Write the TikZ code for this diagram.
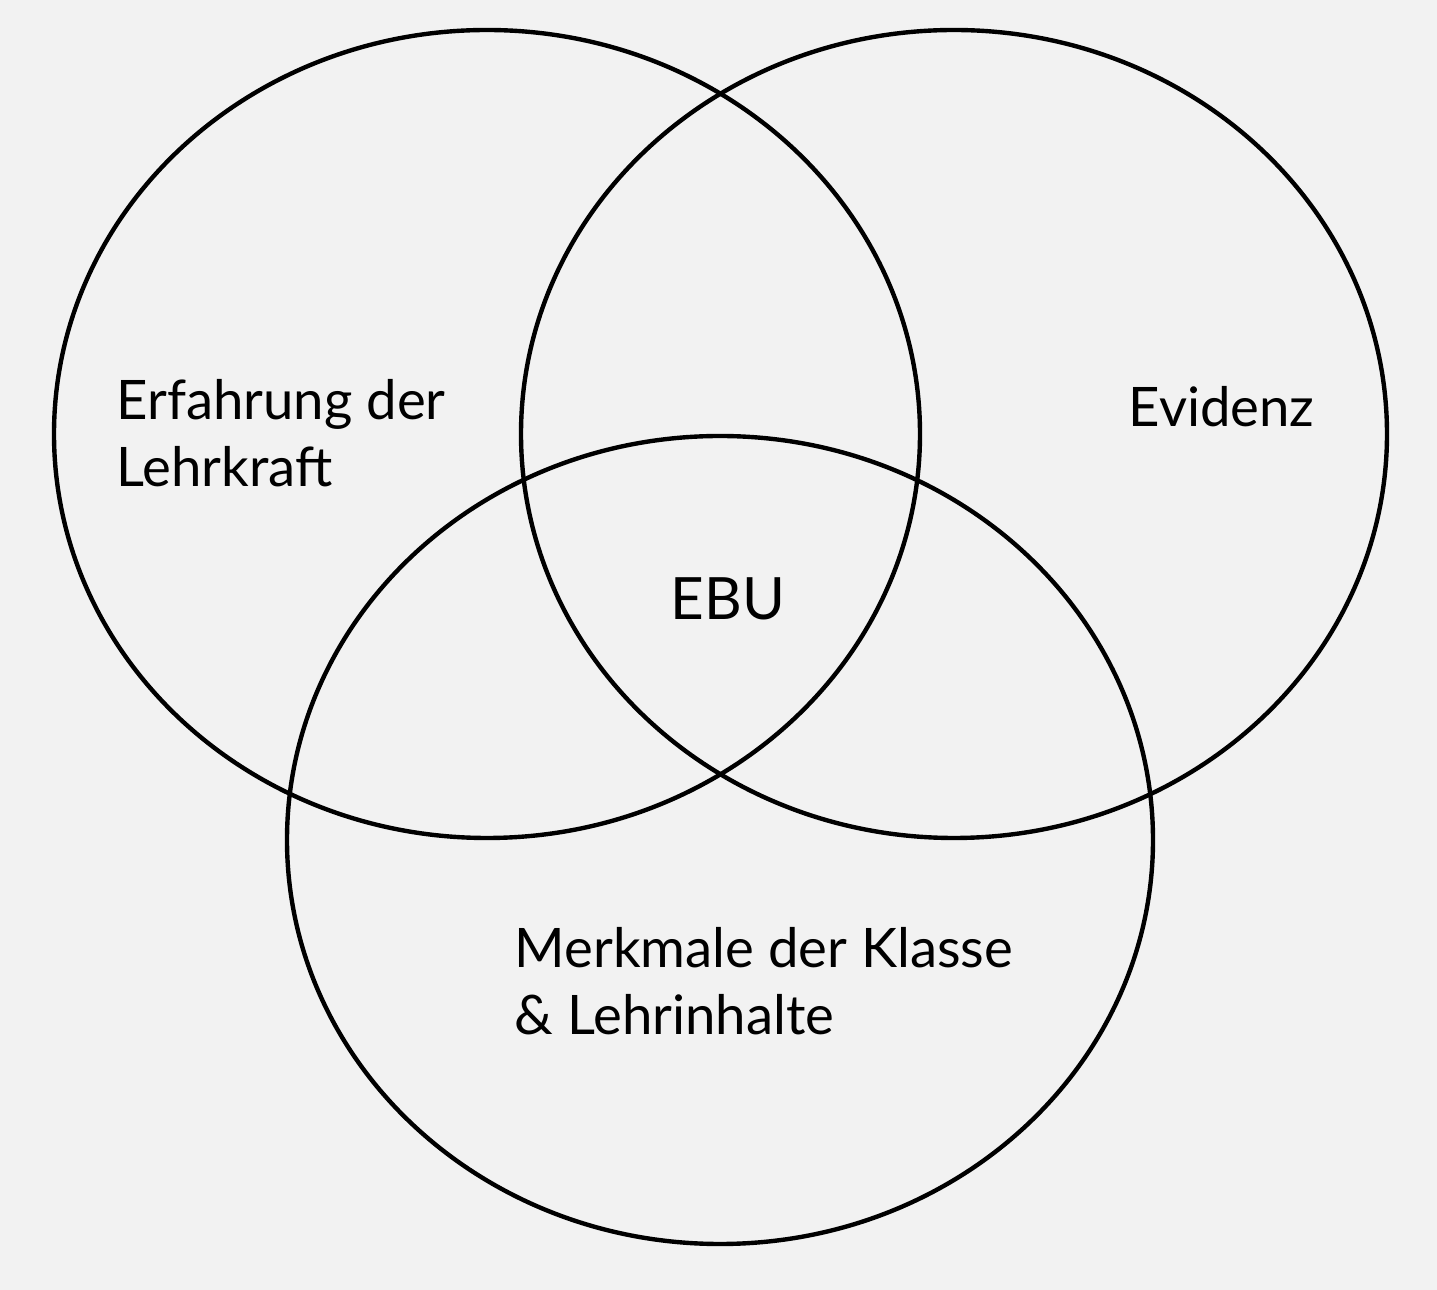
\documentclass[tikz,border=0pt]{standalone}
\usepackage{fontspec}
\setmainfont{Lato}
\usetikzlibrary{shapes.geometric,positioning}
\definecolor{paper}{HTML}{F2F2F2}
\definecolor{ink}{HTML}{000000}

\begin{document}
\begin{tikzpicture}[ring/.style={ellipse,draw=ink,line width=1.25pt,minimum width=8.66cm,minimum height=8.08cm,inner sep=0pt},label/.style={font=\fontsize{15.5}{19.2}\selectfont,text=ink,align=left,inner sep=0pt,anchor=base west}]
 \fill[paper] (0,0) rectangle (14.37,12.90);
 \useasboundingbox (0,0) rectangle (14.37,12.90);
 \node[ring] (erfahrung) at (4.87,8.56) {};
 \node[ring] (evidenz) at (9.54,8.56) {};
 \node[ring] (merkmale) at (7.20,4.50) {};
 % base of a two-line label is its last line
 \node[label] (lehrkraft) at (1.16,8.03) {Erfahrung der\\Lehrkraft};
 \node[label] (evi) at (11.28,8.63) {Evidenz};
 \node[label] (klasse) at (5.14,2.55) {Merkmale der Klasse\\\& Lehrinhalte};
 \node[label,font=\fontsize{16.6}{20}\selectfont] (ebu) at (6.70,6.70) {EBU};
\end{tikzpicture}
\end{document}
